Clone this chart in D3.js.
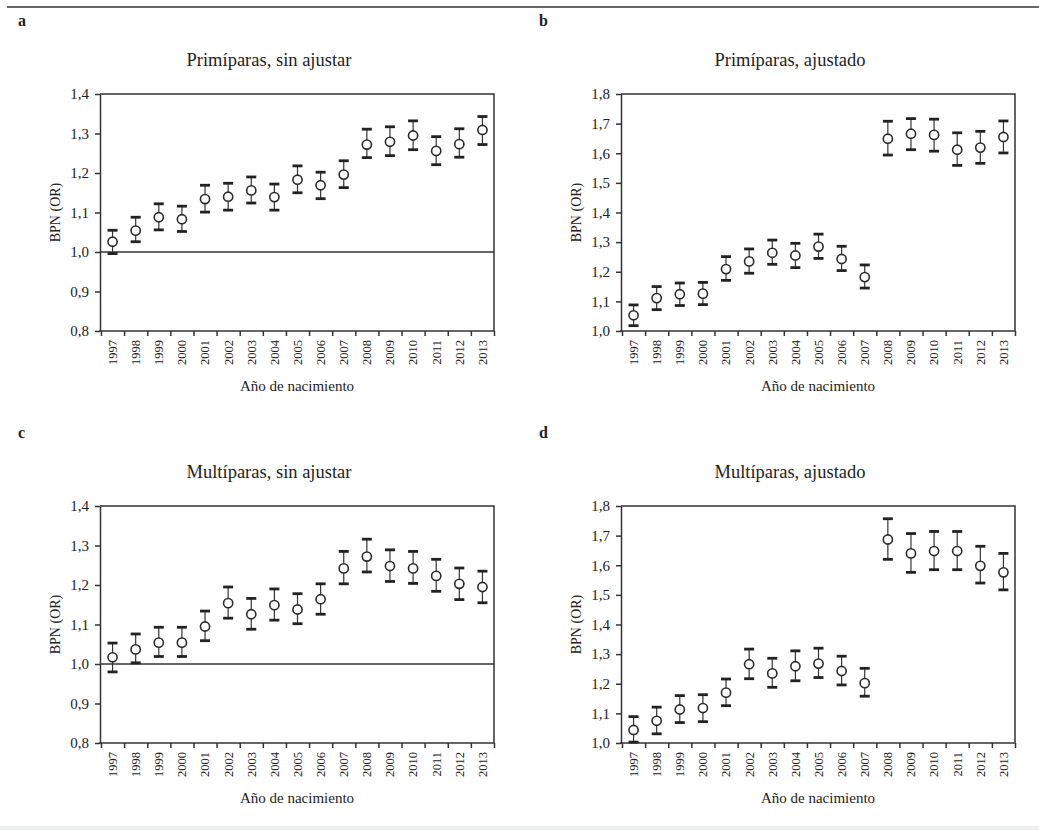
<!DOCTYPE html>
<html>
<head>
<meta charset="utf-8">
<script src="https://cdn.jsdelivr.net/npm/d3@7"></script>
<style>
  html, body { margin: 0; padding: 0; background: #fff; }
  svg { display: block; }
  svg text { font-family: "Liberation Serif", "Times New Roman", Times, serif !important; fill: #222; }
  .axis path, .axis line { stroke: #333; stroke-width: 1.5; }
  .axis text { font-size: 15px; }
  .axis.years text { font-size: 12.5px; }
</style>
</head>
<body>
<svg id="chart" width="1039" height="830" font-family="Liberation Serif, serif"></svg>
<script>
/* BPN (OR) by birth year, four panels. */

const years = [1997, 1998, 1999, 2000, 2001, 2002, 2003, 2004, 2005, 2006, 2007, 2008, 2009, 2010, 2011, 2012, 2013];

/* a: primiparas, unadjusted */
const primSinEst = [1.026, 1.054, 1.088, 1.083, 1.134, 1.140, 1.156, 1.139, 1.183, 1.169, 1.196, 1.272, 1.279, 1.295, 1.256, 1.273, 1.309];
const primSinLo  = [0.996, 1.026, 1.056, 1.052, 1.101, 1.106, 1.124, 1.106, 1.150, 1.135, 1.163, 1.239, 1.244, 1.259, 1.221, 1.240, 1.272];
const primSinHi  = [1.055, 1.088, 1.122, 1.116, 1.169, 1.174, 1.190, 1.172, 1.218, 1.202, 1.231, 1.311, 1.317, 1.332, 1.292, 1.312, 1.343];

/* b: primiparas, adjusted */
const primAjEst = [1.053, 1.111, 1.124, 1.126, 1.209, 1.235, 1.264, 1.255, 1.285, 1.243, 1.182, 1.649, 1.666, 1.662, 1.612, 1.619, 1.655];
const primAjLo  = [1.018, 1.072, 1.086, 1.089, 1.171, 1.195, 1.225, 1.214, 1.245, 1.204, 1.145, 1.594, 1.612, 1.607, 1.559, 1.566, 1.601];
const primAjHi  = [1.088, 1.150, 1.162, 1.164, 1.251, 1.277, 1.307, 1.296, 1.327, 1.286, 1.223, 1.708, 1.717, 1.715, 1.669, 1.674, 1.709];

/* c: multiparas, unadjusted */
const multSinEst = [1.017, 1.037, 1.054, 1.054, 1.095, 1.154, 1.126, 1.149, 1.138, 1.164, 1.242, 1.272, 1.248, 1.242, 1.223, 1.203, 1.195];
const multSinLo  = [0.980, 1.003, 1.019, 1.019, 1.059, 1.116, 1.088, 1.111, 1.102, 1.126, 1.203, 1.233, 1.209, 1.204, 1.184, 1.163, 1.155];
const multSinHi  = [1.053, 1.076, 1.093, 1.093, 1.134, 1.195, 1.166, 1.190, 1.178, 1.203, 1.285, 1.316, 1.289, 1.285, 1.265, 1.243, 1.235];

/* d: multiparas, adjusted */
const multAjEst = [1.044, 1.075, 1.113, 1.118, 1.170, 1.266, 1.235, 1.259, 1.268, 1.243, 1.202, 1.687, 1.640, 1.648, 1.648, 1.598, 1.576];
const multAjLo  = [1.003, 1.031, 1.069, 1.072, 1.126, 1.217, 1.188, 1.210, 1.221, 1.196, 1.158, 1.620, 1.576, 1.585, 1.585, 1.540, 1.517];
const multAjHi  = [1.089, 1.121, 1.160, 1.163, 1.216, 1.317, 1.286, 1.311, 1.320, 1.293, 1.252, 1.757, 1.707, 1.714, 1.714, 1.664, 1.640];

const ticksSin = [0.8, 0.9, 1.0, 1.1, 1.2, 1.3, 1.4];
const ticksAj  = [1.0, 1.1, 1.2, 1.3, 1.4, 1.5, 1.6, 1.7, 1.8];

const SERIF = "'Liberation Serif', 'Times New Roman', serif";
const svg = d3.select("#chart");

/* rule across the top of the figure */
svg.append("line")
  .attr("x1", 7).attr("x2", 1039).attr("y1", 7).attr("y2", 7)
  .attr("stroke", "#333").attr("stroke-width", 1.5);

/* panel geometry, relative to each panel's origin */
const M = { left: 100, right: 494, top: 94, bottom: 331 };

drawPanel({ x0: 0,   y0: 0,   letter: "a", title: "Primíparas, sin ajustar",  ticks: ticksSin, est: primSinEst, lo: primSinLo, hi: primSinHi, refLine: true });
drawPanel({ x0: 521, y0: 0,   letter: "b", title: "Primíparas, ajustado",     ticks: ticksAj,  est: primAjEst,  lo: primAjLo,  hi: primAjHi,  refLine: false });
drawPanel({ x0: 0,   y0: 412, letter: "c", title: "Multíparas, sin ajustar",  ticks: ticksSin, est: multSinEst, lo: multSinLo, hi: multSinHi, refLine: true });
drawPanel({ x0: 521, y0: 412, letter: "d", title: "Multíparas, ajustado",     ticks: ticksAj,  est: multAjEst,  lo: multAjLo,  hi: multAjHi,  refLine: false });

function drawPanel(p) {
  const g = svg.append("g").attr("transform", "translate(" + p.x0 + "," + p.y0 + ")");

  const rows = years.map(function (yr, i) {
    return { year: yr, est: p.est[i], lo: p.lo[i], hi: p.hi[i] };
  });

  const x = d3.scaleLinear().domain([years[0] - 0.5, years[years.length - 1] + 0.5]).range([M.left + 1, M.right]);
  const y = d3.scaleLinear().domain(d3.extent(p.ticks)).range([M.bottom, M.top]);

  g.append("text")
    .attr("x", 18).attr("y", 26)
    .style("font-size", "16px").style("font-weight", "bold")
    .text(p.letter);

  g.append("text")
    .attr("x", 269).attr("y", 66)
    .attr("text-anchor", "middle")
    .style("font-size", "18.5px")
    .text(p.title);

  /* frame: top and right */
  g.append("path")
    .attr("d", "M" + M.left + "," + M.top + "H" + M.right + "V" + M.bottom)
    .attr("fill", "none").attr("stroke", "#333").attr("stroke-width", 1.5);

  /* y axis */
  const yAxis = g.append("g").attr("class", "axis")
    .attr("transform", "translate(" + M.left + ",0)")
    .call(d3.axisLeft(y).tickValues(p.ticks).tickSizeInner(5).tickSizeOuter(0).tickPadding(6)
      .tickFormat(function (d) { return d.toFixed(1).replace(".", ","); }));
  yAxis.attr("font-family", SERIF).attr("font-size", null);
  yAxis.selectAll("text").attr("fill", "#222");

  /* x axis: ticks between years, labels at year centres */
  const bounds = d3.range(years[0] - 0.5, years[years.length - 1] + 1, 1);
  const xAxis = g.append("g").attr("class", "axis")
    .attr("transform", "translate(0," + M.bottom + ")")
    .call(d3.axisBottom(x).tickValues(bounds).tickSizeInner(5).tickSizeOuter(0).tickFormat(""));
  xAxis.select(".domain").attr("d", "M" + (M.left - 1) + ",0H" + M.right);

  const labels = g.append("g").attr("class", "axis years").attr("font-family", SERIF);
  labels.selectAll("text")
    .data(years)
    .enter()
    .append("text")
    .attr("transform", function (d) { return "translate(" + x(d) + "," + (M.bottom + 9) + ") rotate(-90)"; })
    .attr("text-anchor", "end")
    .attr("dy", "0.35em")
    .text(function (d) { return d; });

  g.append("text")
    .attr("transform", "translate(" + 60 + "," + ((M.top + M.bottom) / 2) + ") rotate(-90)")
    .attr("text-anchor", "middle")
    .style("font-size", "14px")
    .text("BPN (OR)");

  g.append("text")
    .attr("x", (M.left + M.right) / 2).attr("y", 391)
    .attr("text-anchor", "middle")
    .style("font-size", "15px")
    .text("Año de nacimiento");

  if (p.refLine) {
    g.append("line")
      .attr("x1", M.left).attr("x2", M.right)
      .attr("y1", y(1.0)).attr("y2", y(1.0))
      .attr("stroke", "#333").attr("stroke-width", 1.5);
  }

  /* error bars */
  const bars = g.append("g").selectAll("g.bar")
    .data(rows)
    .enter()
    .append("g")
    .attr("class", "bar");

  bars.append("line")
    .attr("x1", function (d) { return x(d.year); })
    .attr("x2", function (d) { return x(d.year); })
    .attr("y1", function (d) { return y(d.lo); })
    .attr("y2", function (d) { return y(d.hi); })
    .attr("stroke", "#333").attr("stroke-width", 1.2);

  ["lo", "hi"].forEach(function (k) {
    bars.append("line")
      .attr("x1", function (d) { return x(d.year) - 5; })
      .attr("x2", function (d) { return x(d.year) + 5; })
      .attr("y1", function (d) { return y(d[k]); })
      .attr("y2", function (d) { return y(d[k]); })
      .attr("stroke", "#222").attr("stroke-width", 2.8);
  });

  bars.append("circle")
    .attr("cx", function (d) { return x(d.year); })
    .attr("cy", function (d) { return y(d.est); })
    .attr("r", 4.6)
    .attr("fill", "#fff")
    .attr("stroke", "#2a2a2a").attr("stroke-width", 1.6);
}

/* faint strip along the bottom edge */
svg.append("rect")
  .attr("x", 0).attr("y", 826).attr("width", 1039).attr("height", 4)
  .attr("fill", "#eef1f4");
</script>
</body>
</html>
